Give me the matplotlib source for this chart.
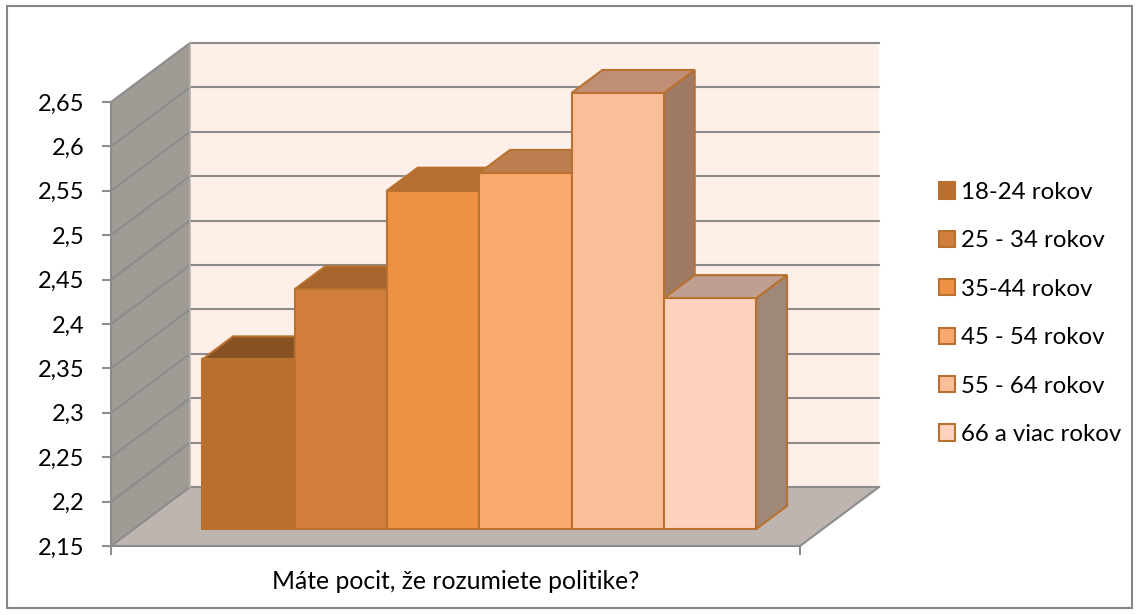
import matplotlib
matplotlib.use("Agg")
import matplotlib.pyplot as plt
from matplotlib.patches import Polygon, Rectangle
from matplotlib.lines import Line2D
from matplotlib.transforms import Affine2D, IdentityTransform

plt.rcParams['font.family'] = ['Lato', 'DejaVu Sans']

categories = ["18-24 rokov", "25 - 34 rokov", "35-44 rokov", "45 - 54 rokov", "55 - 64 rokov", "66 a viac rokov"]
values = [2.341, 2.42, 2.531, 2.551, 2.641, 2.41]
y_ticks = [2.15, 2.2, 2.25, 2.3, 2.35, 2.4, 2.45, 2.5, 2.55, 2.6, 2.65]
y_labels = ["2,15", "2,2", "2,25", "2,3", "2,35", "2,4", "2,45", "2,5", "2,55", "2,6", "2,65"]
x_title = "Máte pocit, že rozumiete politike?"
front_colors = ["#B86F2F", "#D17F3A", "#EE9142", "#F9A96E", "#FBBE9A", "#FED2BE"]
top_colors = ["#875223", "#A5652D", "#B66F32", "#BE7F50", "#BF8E75", "#BFA090"]
side_colors = ["#7E4C20", "#8F5A2C", "#99683E", "#9E7255", "#9F7A64", "#A08878"]
edge_color = "#B8712F"
grid_color = "#8C8C8C"

W, H = 1139, 615
fig = plt.figure(figsize=(W / 100, H / 100), dpi=100, facecolor="white")
L, R, T, B = 111, 800, 102, 546
ax = fig.add_axes([L / W, 1 - B / H, (R - L) / W, (B - T) / H])
ax.patch.set_visible(False)

bar_w = 92.33
ax.set_ylim(2.15, 2.65)
ax.set_xlim(-0.5 - (179.5 - L) / bar_w, -0.5 + (R - 179.5) / bar_w)
ymin = y_ticks[0]
ymax = y_ticks[-1]
x0, x1 = ax.get_xlim()

DX, DY = 79, 59          # full depth of the floor in pixels
BAR_FRONT = 17 / 59      # depth position of the bar fronts
BAR_BACK = 40 / 59       # depth position of the bar backs


def proj(x, y, d):
    px, py = ax.transData.transform((x, y))
    return (px + d * DX, py + d * DY)


def poly(pts, fc, ec="none", lw=0, z=1):
    ax.add_patch(Polygon(pts, closed=True, facecolor=fc, edgecolor=ec, linewidth=lw,
                         transform=IdentityTransform(), clip_on=False, zorder=z, joinstyle="miter"))


def line(a, b, c=grid_color, lw=1.5, z=2):
    ax.add_line(Line2D([a[0], b[0]], [a[1], b[1]], color=c, lw=lw,
                       transform=IdentityTransform(), clip_on=False, zorder=z))


# walls and floor
poly([proj(x0, ymin, 1), proj(x1, ymin, 1), proj(x1, ymax, 1), proj(x0, ymax, 1)], "#FEEFE8", z=1)
poly([proj(x0, ymin, 0), proj(x0, ymin, 1), proj(x0, ymax, 1), proj(x0, ymax, 0)], "#A19B96", z=1)
poly([proj(x0, ymin, 0), proj(x1, ymin, 0), proj(x1, ymin, 1), proj(x0, ymin, 1)], "#BEB5B0", z=1)

# gridlines
for t in y_ticks:
    line(proj(x0, t, 0), proj(x0, t, 1))
    line(proj(x0, t, 1), proj(x1, t, 1))
line(proj(x0, ymin, 1), proj(x0, ymax, 1), c="#B5B0AC", lw=1.2)
line(proj(x1, ymin, 0), proj(x1, ymin, 1))

# bars, painted left to right
front_shift = ax.transData + Affine2D().translate(BAR_FRONT * DX, BAR_FRONT * DY)
for i, v in enumerate(values):
    l, r = i - 0.5, i + 0.5
    z = 3 + i * 0.1
    poly([proj(r, ymin, BAR_FRONT), proj(r, ymin, BAR_BACK), proj(r, v, BAR_BACK), proj(r, v, BAR_FRONT)],
         side_colors[i], edge_color, 1.5, z)
    poly([proj(l, v, BAR_FRONT), proj(r, v, BAR_FRONT), proj(r, v, BAR_BACK), proj(l, v, BAR_BACK)],
         top_colors[i], edge_color, 1.5, z)
    ax.bar(i, v - ymin, width=1, bottom=ymin, color=front_colors[i], edgecolor=edge_color,
           linewidth=1.5, transform=front_shift, clip_on=False, zorder=z + 0.01)

ax.set_ylim(2.15, 2.65)
ax.set_xlim(x0, x1)

# axes
for s in ("top", "right"):
    ax.spines[s].set_visible(False)
for s in ("left", "bottom"):
    ax.spines[s].set_color(grid_color)
    ax.spines[s].set_linewidth(1.5)
    ax.spines[s].set_zorder(6)
ax.set_yticks(y_ticks)
ax.set_yticklabels(y_labels)
ax.set_xticks([x0, x1])
ax.set_xticklabels(["", ""])
ax.tick_params(axis="both", color=grid_color, width=1.5, length=6.5, labelsize=17, labelcolor="black")
ax.tick_params(axis="y", pad=12.5)
ax.set_xlabel(x_title, fontsize=17.8, color="black", labelpad=7.5)

# legend
handles = [Rectangle((0, 0), 1, 1, facecolor=c, edgecolor=edge_color, linewidth=1.5) for c in front_colors]
ax.legend(handles, categories, loc="upper left", bbox_to_anchor=(939 / W, 1 - 182 / H),
          bbox_transform=fig.transFigure, frameon=False, fontsize=17.3,
          handlelength=0.66, handleheight=0.66, handletextpad=0.27, labelspacing=1.14,
          borderpad=0, borderaxespad=0, labelcolor="black")

# outer frame
fig.add_artist(Rectangle((7 / W, 1 - 608 / H), (1132 - 7) / W, (608 - 6) / H, transform=fig.transFigure,
                         fill=False, edgecolor="#868686", linewidth=1.5))

fig.savefig("out.png", dpi=100, facecolor="white")
